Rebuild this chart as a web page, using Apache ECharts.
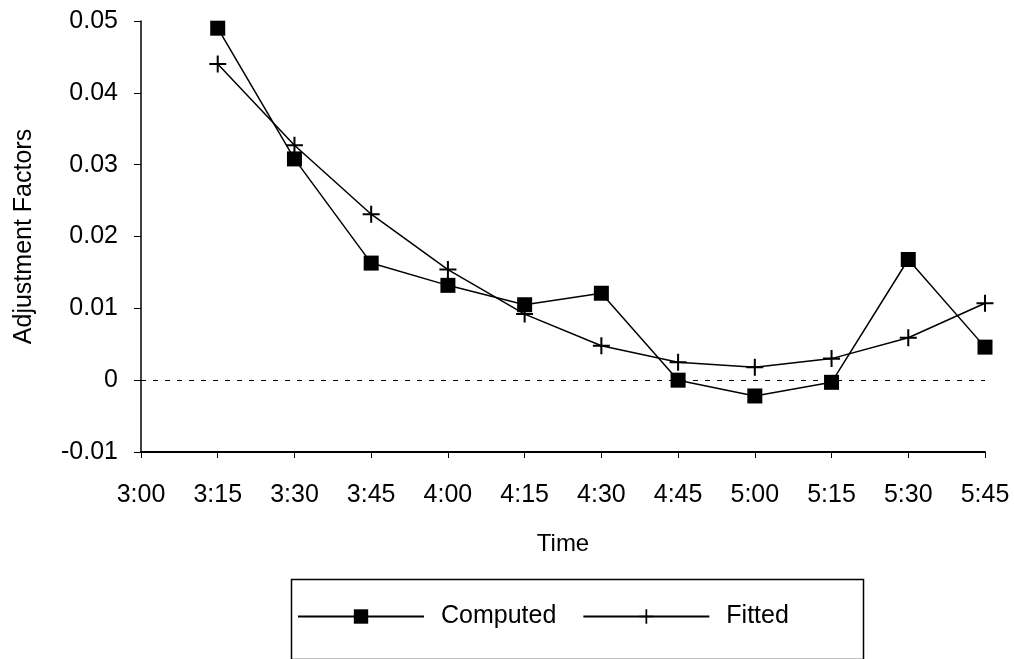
<!DOCTYPE html>
<html>
<head>
<meta charset="utf-8">
<script src="https://cdn.jsdelivr.net/npm/echarts@6/dist/echarts.min.js"></script>
<style>
html, body { margin: 0; padding: 0; background: #fff; }
#chart { width: 1014px; height: 659px; }
</style>
</head>
<body>
<div id="chart"></div>
<script>
var times = ['3:00', '3:15', '3:30', '3:45', '4:00', '4:15', '4:30', '4:45', '5:00', '5:15', '5:30', '5:45'];
var computed = [null, 0.0490, 0.0308, 0.0163, 0.0132, 0.0105, 0.0121, 0.0000, -0.0022, -0.0003, 0.0168, 0.0046];
var fitted = [null, 0.0440, 0.0327, 0.0231, 0.0154, 0.0092, 0.0048, 0.0025, 0.0018, 0.0030, 0.0059, 0.0107];

var plus = 'path://M4.4,0 H5.6 V4.4 H10 V5.6 H5.6 V10 H4.4 V5.6 H0 V4.4 H4.4 Z';
var font = 'Liberation Sans, Arial, sans-serif';

var myChart = echarts.init(document.getElementById('chart'));
var option = {
    animation: false,
    backgroundColor: '#fff',
    grid: {
        left: 141,
        right: 29,
        top: 21,
        bottom: 207
    },
    legend: {
        left: 297,
        top: 604,
        padding: 0,
        itemWidth: 126,
        itemHeight: 18,
        itemGap: 26,
        textStyle: {
            fontSize: 25,
            color: '#000',
            fontFamily: font,
            padding: [0, 0, 0, 12]
        },
        data: ['Computed', 'Fitted']
    },
    graphic: [{
        type: 'rect',
        left: 289,
        top: 577,
        shape: { width: 572, height: 80 },
        style: { fill: 'none', stroke: '#000', lineWidth: 1.5 }
    }],
    xAxis: {
        type: 'category',
        data: times,
        boundaryGap: false,
        name: 'Time',
        nameLocation: 'middle',
        nameGap: 80,
        nameTextStyle: { fontSize: 24, color: '#000', fontFamily: font },
        axisLine: { onZero: false, lineStyle: { color: '#000', width: 2 } },
        axisTick: { show: true, alignWithLabel: true, length: 6, lineStyle: { color: '#000' } },
        axisLabel: { fontSize: 25, color: '#000', fontFamily: font, margin: 31, interval: 0 },
        splitLine: { show: false }
    },
    yAxis: {
        type: 'value',
        min: -0.01,
        max: 0.05,
        interval: 0.01,
        name: 'Adjustment Factors',
        nameLocation: 'middle',
        nameRotate: 90,
        nameGap: 104,
        nameTextStyle: { fontSize: 25, color: '#000', fontFamily: font },
        axisLine: { show: true, lineStyle: { color: '#000', width: 1.5 } },
        axisTick: { show: true, length: 7, lineStyle: { color: '#000' } },
        axisLabel: {
            fontSize: 25,
            color: '#000',
            fontFamily: font,
            margin: 23,
            formatter: function (v) {
                return Math.abs(v) < 1e-9 ? '0' : v.toFixed(2);
            }
        },
        splitLine: { show: false }
    },
    series: [{
            name: 'Computed',
            type: 'line',
            data: computed,
            symbol: 'rect',
            symbolSize: 15,
            showAllSymbol: true,
            lineStyle: { color: '#000', width: 1.5 },
            itemStyle: { color: '#000' },
            markLine: {
                silent: true,
                symbol: 'none',
                label: { show: false },
                lineStyle: { color: '#000', type: [5, 7], width: 1.2 },
                data: [{ yAxis: 0 }]
            }
        },
        {
            name: 'Fitted',
            type: 'line',
            data: fitted,
            symbol: plus,
            symbolSize: 17,
            showAllSymbol: true,
            lineStyle: { color: '#000', width: 1.5 },
            itemStyle: { color: '#000' }
        }
    ]
};
myChart.setOption(option);
</script>
</body>
</html>
